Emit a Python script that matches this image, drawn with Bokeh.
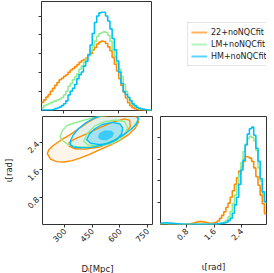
import math
from bokeh.plotting import figure
from bokeh.layouts import column, row
from bokeh.models import Range1d, FixedTicker, Legend, LegendItem, CustomJSTickFormatter
from bokeh.embed import file_html
from bokeh.resources import INLINE

SERIES = ["22+noNQCfit", "LM+noNQCfit", "HM+noNQCfit"]
COLORS = ["#ff8c00", "#90ee90", "#00bfff"]

# ---- luminosity distance histograms (density per Mpc), 50 bins of 12 Mpc from 180 Mpc
DL_BIN_START = 180.0
DL_BIN_WIDTH = 12.0
DL_22 = [0.00043, 0.00056, 0.00071, 0.00084, 0.00102, 0.00117, 0.00133, 0.00148, 0.00163, 0.00171,
         0.00181, 0.00189, 0.00202, 0.00214, 0.00222, 0.00232, 0.00242, 0.00255, 0.00263, 0.00270,
         0.00278, 0.00291, 0.00301, 0.00321, 0.00334, 0.00352, 0.00362, 0.00367, 0.00365, 0.00355,
         0.00337, 0.00316, 0.00281, 0.00245, 0.00209, 0.00168, 0.00133, 0.00097, 0.00066, 0.00041,
         0.00026, 0.00015, 0.00010, 0.00005, 0.00003, 0.00002, 0.00001, 0.00001, 0.0, 0.0]
DL_LM = [0.00013, 0.00026, 0.00031, 0.00036, 0.00041, 0.00046, 0.00051, 0.00056, 0.00061, 0.00069,
         0.00082, 0.00102, 0.00128, 0.00143, 0.00163, 0.00179, 0.00194, 0.00219, 0.00235, 0.00255,
         0.00273, 0.00291, 0.00316, 0.00342, 0.00367, 0.00393, 0.00406, 0.00413, 0.00416, 0.00413,
         0.00398, 0.00367, 0.00321, 0.00286, 0.00250, 0.00219, 0.00179, 0.00138, 0.00102, 0.00066,
         0.00046, 0.00033, 0.00023, 0.00015, 0.00010, 0.00008, 0.00005, 0.00003, 0.00001, 0.00001]
DL_HM = [0.00002, 0.00002, 0.00002, 0.00002, 0.00003, 0.00005, 0.00010, 0.00013, 0.00018, 0.00026,
         0.00036, 0.00051, 0.00082, 0.00102, 0.00117, 0.00138, 0.00168, 0.00189, 0.00204, 0.00235,
         0.00260, 0.00296, 0.00347, 0.00408, 0.00466, 0.00500, 0.00517, 0.00520, 0.00520, 0.00500,
         0.00474, 0.00432, 0.00381, 0.00321, 0.00262, 0.00203, 0.00143, 0.00100, 0.00085, 0.00070,
         0.00053, 0.00036, 0.00026, 0.00016, 0.00012, 0.00008, 0.00006, 0.00004, 0.00002, 0.00001]

# ---- inclination histograms (density per rad), 50 equal bins over [0, pi]
IOTA_NBINS = 50
IOTA_22 = [0.03, 0.04, 0.04, 0.04, 0.03, 0.03, 0.02, 0.02, 0.01,
           0.01, 0.01, 0.01, 0.01, 0.02,
           0.03, 0.05, 0.08, 0.11, 0.13, 0.13, 0.12, 0.10, 0.08, 0.06, 0.05, 0.07, 0.10, 0.16,
           0.28, 0.42, 0.58, 0.78, 0.98, 1.25, 1.55, 1.85, 2.15, 2.45, 2.65, 2.90, 3.12, 3.10,
           3.05, 2.90, 2.60, 2.20, 1.80, 1.35, 0.95, 0.50]
IOTA_LM = [0.03, 0.04, 0.04, 0.04, 0.03, 0.03, 0.02, 0.02, 0.02,
           0.01, 0.01, 0.01, 0.01, 0.01, 0.01, 0.01, 0.01, 0.01, 0.01, 0.01, 0.01, 0.01, 0.01,
           0.01, 0.01, 0.01, 0.01,
           0.03, 0.05, 0.08, 0.12, 0.20, 0.35, 0.60, 0.95, 1.35, 1.80, 2.30, 2.85, 3.35, 3.70,
           3.95, 4.05, 4.00, 3.85, 3.40, 2.60, 2.00, 1.40, 1.00]
IOTA_HM = [0.05, 0.07, 0.08, 0.08, 0.07, 0.06, 0.05, 0.04, 0.03,
           0.02, 0.02, 0.01, 0.01, 0.01, 0.01, 0.01, 0.01, 0.01, 0.01, 0.01, 0.01, 0.01, 0.01,
           0.01, 0.01, 0.02, 0.02,
           0.03, 0.04, 0.05,
           0.07, 0.10, 0.18, 0.28, 0.52, 0.90, 1.25, 1.85, 2.50, 2.95, 3.65, 4.15, 4.40, 4.47,
           4.10, 3.50, 2.90, 2.10, 1.50, 1.05]

# ---- 2D credible contours (D_L [Mpc], iota [rad])
C22_OUTER_DL = [206, 224, 256, 298, 341, 383, 436, 489, 542, 595, 648, 685, 701, 701, 685,
                622, 542, 489, 463, 426, 383, 330, 277, 235, 214]
C22_OUTER_IO = [2.07, 1.91, 1.84, 1.83, 1.87, 1.94, 2.05, 2.18, 2.30, 2.44, 2.62, 2.81, 2.97, 3.08, 3.15,
                3.16, 3.16, 3.14, 3.08, 2.97, 2.81, 2.62, 2.45, 2.29, 2.18]
C22_INNER_DL = [325, 357, 410, 489, 569, 622, 657, 654, 627, 569, 489, 410, 351, 325]
C22_INNER_IO = [2.29, 2.21, 2.20, 2.26, 2.43, 2.62, 2.84, 3.03, 3.07, 2.99, 2.81, 2.62, 2.48, 2.39]
CLM_OUTER_DL = [275, 288, 320, 373, 447, 516, 574, 632, 675, 701, 707, 595, 463, 410, 357, 314, 288]
CLM_OUTER_IO = [2.56, 2.45, 2.33, 2.26, 2.26, 2.35, 2.48, 2.66, 2.85, 3.04, 3.16, 3.22, 3.12, 3.04,
                2.96, 2.88, 2.74]
CLM_INNER_DL = [404, 428, 489, 553, 601, 632, 643, 627, 579, 516, 463, 426]
CLM_INNER_IO = [2.43, 2.32, 2.29, 2.36, 2.48, 2.65, 2.82, 2.99, 3.04, 2.99, 2.86, 2.67]
CHM_OUTER_DL = [332, 346, 383, 447, 516, 569, 622, 664, 691, 701, 696, 638, 516, 463, 415, 373, 346, 333]
CHM_OUTER_IO = [2.33, 2.26, 2.24, 2.25, 2.33, 2.45, 2.62, 2.78, 2.93, 3.07, 3.16, 3.19, 3.18, 3.10,
                2.96, 2.78, 2.60, 2.45]
CHM_INNER_DL = [420, 441, 489, 542, 585, 611, 616, 601, 558, 505, 463, 434]
CHM_INNER_IO = [2.47, 2.37, 2.33, 2.37, 2.48, 2.65, 2.81, 2.93, 2.97, 2.91, 2.78, 2.63]
CHM_CORE_DL = [481, 495, 526, 558, 569, 553, 516, 489]
CHM_CORE_IO = [2.54, 2.47, 2.45, 2.54, 2.66, 2.74, 2.74, 2.66]

DL_TICKS = [300, 450, 600, 750]
IOTA_TICKS = [0.8, 1.6, 2.4]
DL_DENS_TICKS = [0.001, 0.002, 0.003, 0.004, 0.005]
IOTA_DENS_TICKS = [1, 2, 3, 4]

DL_LIM = (180, 778)
IOTA_LIM = (0.03, 3.14)
DL_DENS_LIM = (0, 0.00577)
IOTA_DENS_LIM = (0, 4.96)

FONT = "DejaVu Sans"
TXT = "#222222"
SPINE = "#333333"


def make_fig(fw, fh, xr, yr, left, right, top, bottom):
    p = figure(frame_width=fw, frame_height=fh, x_range=Range1d(*xr), y_range=Range1d(*yr),
               output_backend="svg", toolbar_location=None,
               min_border_left=left, min_border_right=right,
               min_border_top=top, min_border_bottom=bottom)
    p.grid.visible = False
    p.outline_line_color = SPINE
    p.outline_line_width = 1
    p.background_fill_color = "white"
    p.border_fill_color = "white"
    for ax in p.axis:
        ax.axis_line_color = None
        ax.major_tick_line_color = SPINE
        ax.major_tick_out = 3
        ax.major_tick_in = 0
        ax.minor_tick_line_color = None
        ax.major_label_text_font = FONT
        ax.major_label_text_font_size = "8px"
        ax.major_label_text_color = TXT
        ax.major_label_standoff = 2
        ax.axis_label_text_font = FONT
        ax.axis_label_text_font_size = "8.5px"
        ax.axis_label_text_font_style = "normal"
        ax.axis_label_text_color = TXT
    return p


def hide_labels(ax):
    # tick marks only (corner-style marginal panels have unlabeled ticks)
    ax.formatter = CustomJSTickFormatter(code="return ''")
    ax.major_label_text_font_size = "1px"
    ax.major_label_text_color = None
    ax.major_label_standoff = 0


def step_hist(p, start, width, vals, color):
    xs, ys = [], []
    for i, v in enumerate(vals):
        xs += [start + width * i, start + width * (i + 1)]
        ys += [v, v]
    return p.line(xs, ys, line_color=color, line_width=1.6)


# top-left: D_L marginal   (figure 154 x 115)
p_tl = make_fig(110, 109, DL_LIM, DL_DENS_LIM, 41, 3, 1, 5)
p_tl.xaxis.ticker = FixedTicker(ticks=DL_TICKS)
p_tl.yaxis.ticker = FixedTicker(ticks=DL_DENS_TICKS)
hide_labels(p_tl.xaxis[0])
hide_labels(p_tl.yaxis[0])
for vals, col in zip([DL_22, DL_LM, DL_HM], COLORS):
    step_hist(p_tl, DL_BIN_START, DL_BIN_WIDTH, vals, col)

# top-right: legend only   (figure 112 x 115)
p_leg = figure(width=112, height=115, x_range=Range1d(0, 1), y_range=Range1d(0, 1),
               output_backend="svg", toolbar_location=None, x_axis_type=None, y_axis_type=None,
               min_border_left=0, min_border_right=0, min_border_top=0, min_border_bottom=0)
p_leg.outline_line_color = None
p_leg.grid.visible = False
items = []
for name, col in zip(SERIES, COLORS):
    r = p_leg.line(x=[float("nan")], y=[float("nan")], line_color=col, line_width=2, line_alpha=0.65)
    items.append(LegendItem(label=name, renderers=[r]))
legend = Legend(items=items, location=(33, 44), label_text_font=FONT, label_text_font_size="8px",
                label_text_color=TXT, glyph_width=16, glyph_height=12, label_height=12,
                label_standoff=4, spacing=0, padding=3, margin=0,
                border_line_color="#cccccc", border_line_width=1,
                background_fill_color="white", background_fill_alpha=0.8)
p_leg.add_layout(legend)

# bottom-left: 2D D_L vs iota   (figure 154 x 150)
p_bl = make_fig(110, 108, DL_LIM, IOTA_LIM, 41, 3, 1, 41)
p_bl.xaxis.ticker = FixedTicker(ticks=DL_TICKS)
p_bl.yaxis.ticker = FixedTicker(ticks=IOTA_TICKS)
p_bl.xaxis.major_label_orientation = math.pi / 4
p_bl.yaxis.major_label_orientation = math.pi / 4
p_bl.xaxis.axis_label = "Dₗ[Mpc]"
p_bl.yaxis.axis_label = "ι[rad]"
p_bl.xaxis.axis_label_standoff = 16
p_bl.yaxis.axis_label_standoff = 7

p_bl.patch(C22_OUTER_DL, C22_OUTER_IO, fill_color=COLORS[0], fill_alpha=0.09, line_color=None)
p_bl.patch(CHM_OUTER_DL, CHM_OUTER_IO, fill_color=COLORS[2], fill_alpha=0.10, line_color=None)
p_bl.patch(CHM_INNER_DL, CHM_INNER_IO, fill_color=COLORS[2], fill_alpha=0.28, line_color=None)
p_bl.patch(CHM_CORE_DL, CHM_CORE_IO, fill_color=COLORS[2], fill_alpha=0.65, line_color=None)
for xs, ys, col in [(C22_OUTER_DL, C22_OUTER_IO, COLORS[0]), (C22_INNER_DL, C22_INNER_IO, COLORS[0]),
                    (CLM_OUTER_DL, CLM_OUTER_IO, COLORS[1]), (CLM_INNER_DL, CLM_INNER_IO, COLORS[1]),
                    (CHM_OUTER_DL, CHM_OUTER_IO, COLORS[2]), (CHM_INNER_DL, CHM_INNER_IO, COLORS[2])]:
    p_bl.patch(xs, ys, fill_alpha=0, line_color=col, line_width=1.4)

# bottom-right: iota marginal   (figure 112 x 150)
p_br = make_fig(106, 108, IOTA_LIM, IOTA_DENS_LIM, 5, 1, 1, 41)
p_br.xaxis.ticker = FixedTicker(ticks=IOTA_TICKS)
p_br.yaxis.ticker = FixedTicker(ticks=IOTA_DENS_TICKS)
hide_labels(p_br.yaxis[0])
p_br.xaxis.major_label_orientation = math.pi / 4
p_br.xaxis.axis_label = "ι[rad]"
p_br.xaxis.axis_label_standoff = 16
iota_width = math.pi / IOTA_NBINS
for vals, col in zip([IOTA_22, IOTA_LM, IOTA_HM], COLORS):
    step_hist(p_br, 0.0, iota_width, vals, col)

layout = column(row(p_tl, p_leg), row(p_bl, p_br))
open("out.html", "w").write(file_html(layout, INLINE))
